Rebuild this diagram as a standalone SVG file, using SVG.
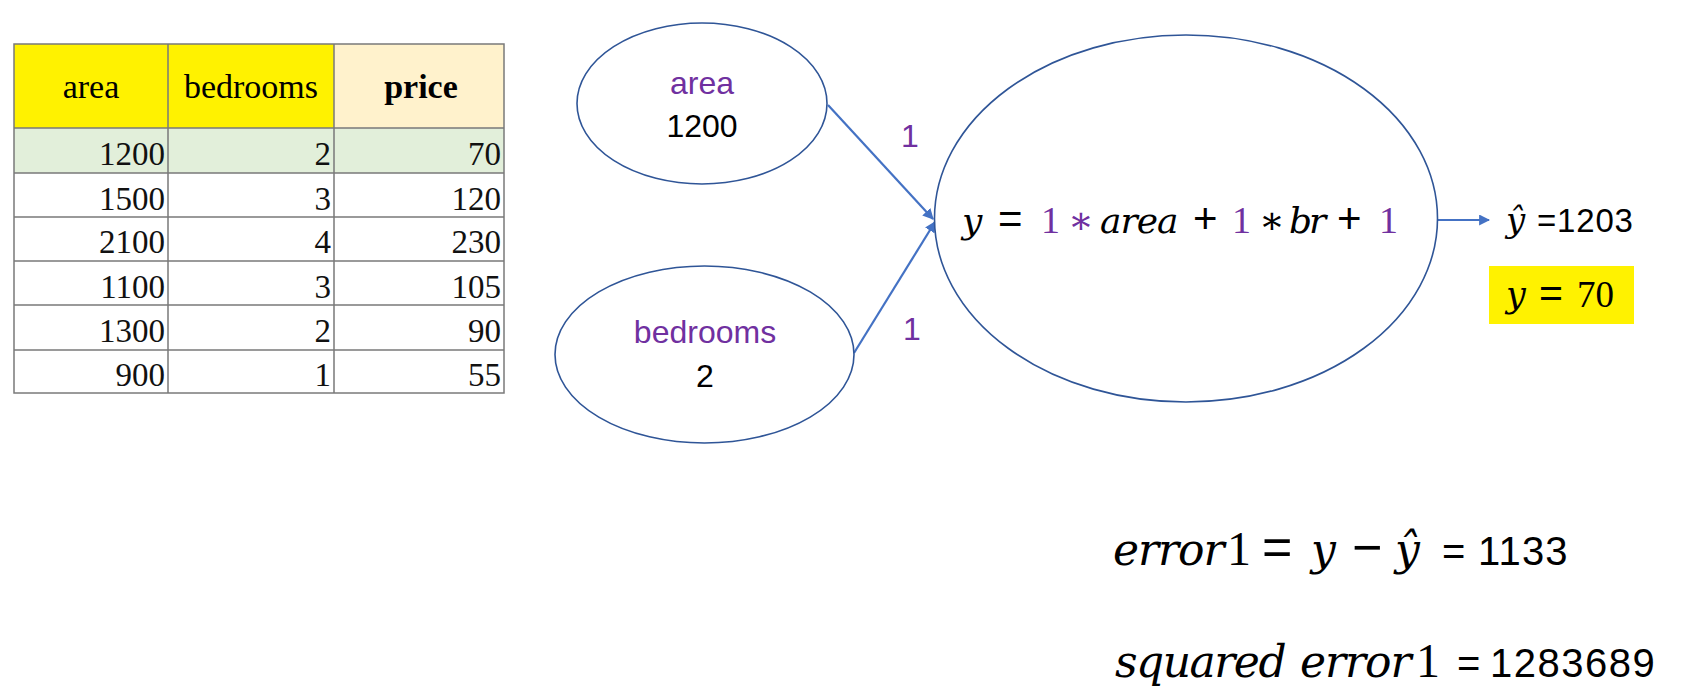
<svg xmlns="http://www.w3.org/2000/svg" width="1689" height="699" viewBox="0 0 1689 699">
<defs>
<style>
.line{stroke:#7a7a7a;stroke-width:1.5;fill:none}
.hdr{font-family:"Liberation Serif",serif;font-size:34px;text-anchor:middle;fill:#000}
.num{font-family:"Liberation Serif",serif;font-size:33px;text-anchor:end;fill:#111}
.node{fill:#fff;stroke:#2F5597;stroke-width:1.6}
.lab{font-family:"Liberation Sans",sans-serif;font-size:32px;text-anchor:middle;fill:#000}
.pur{fill:#7030A0}
.conn{stroke:#4472C4;stroke-width:2.2;fill:none}
.math{font-family:"DejaVu Serif",serif;font-style:italic;fill:#000}
.up{font-family:"Liberation Serif","DejaVu Serif",serif;font-style:normal}
.op{font-family:"Liberation Sans",sans-serif;font-style:normal}
.sans{font-family:"Liberation Sans",sans-serif;font-style:normal;fill:#000}
</style>
<marker id="arr" viewBox="0 0 10 10" refX="9" refY="5" markerWidth="5" markerHeight="5" markerUnits="strokeWidth" orient="auto">
<path d="M0,0 L10,5 L0,10 z" fill="#4472C4"/>
</marker>
</defs>
<rect width="1689" height="699" fill="#fff"/>

<g id="table">
<rect x="14" y="44" width="154" height="84" fill="#FFF200"/>
<rect x="168" y="44" width="166" height="84" fill="#FFF200"/>
<rect x="334" y="44" width="170" height="84" fill="#FFF2CC"/>
<rect x="14" y="128" width="490" height="45" fill="#E2EFDA"/>
<rect class="line" x="14" y="44" width="490" height="349"/>
<path class="line" d="M168,44V393M334,44V393M14,128H504M14,173H504M14,217H504M14,261H504M14,305H504M14,350H504"/>
<text class="hdr" x="91" y="98">area</text>
<text class="hdr" x="251" y="98">bedrooms</text>
<text class="hdr" x="421" y="98" font-weight="bold">price</text>
<text class="num" x="165" y="165">1200</text><text class="num" x="331" y="165">2</text><text class="num" x="501" y="165">70</text>
<text class="num" x="165" y="210">1500</text><text class="num" x="331" y="210">3</text><text class="num" x="501" y="210">120</text>
<text class="num" x="165" y="253">2100</text><text class="num" x="331" y="253">4</text><text class="num" x="501" y="253">230</text>
<text class="num" x="165" y="298">1100</text><text class="num" x="331" y="298">3</text><text class="num" x="501" y="298">105</text>
<text class="num" x="165" y="342">1300</text><text class="num" x="331" y="342">2</text><text class="num" x="501" y="342">90</text>
<text class="num" x="165" y="386">900</text><text class="num" x="331" y="386">1</text><text class="num" x="501" y="386">55</text>
</g>

<g id="connectors">
<line class="conn" x1="828" y1="105" x2="933" y2="219" marker-end="url(#arr)"/>
<line class="conn" x1="854" y1="353" x2="935" y2="222" marker-end="url(#arr)"/>
<line class="conn" x1="1437" y1="220" x2="1489" y2="220" marker-end="url(#arr)"/>
<text class="lab pur" x="910" y="147" font-size="30">1</text>
<text class="lab pur" x="912" y="340" font-size="30">1</text>
</g>

<g id="node-area">
<ellipse class="node" cx="702" cy="103.5" rx="125" ry="80.5"/>
<text class="lab pur" x="702" y="94">area</text>
<text class="lab" x="702" y="137">1200</text>
</g>

<g id="node-bedrooms">
<ellipse class="node" cx="704.5" cy="354.5" rx="149.5" ry="88.5"/>
<text class="lab pur" x="705" y="343">bedrooms</text>
<text class="lab" x="705" y="387">2</text>
</g>

<g id="node-neuron">
<ellipse class="node" cx="1186" cy="218.5" rx="251.5" ry="183.5"/>
<text class="math" y="233" font-size="36"><tspan x="962">y</tspan><tspan class="op" x="998" font-size="42">=</tspan><tspan class="up pur" x="1041" font-size="38">1</tspan><tspan class="up pur" x="1068" font-size="38">∗</tspan><tspan x="1100" letter-spacing="-1">area</tspan><tspan class="op" x="1193" font-size="42">+</tspan><tspan class="up pur" x="1232" font-size="38">1</tspan><tspan class="up" x="1259" font-size="38">∗</tspan><tspan x="1289" letter-spacing="-3">br</tspan><tspan class="op" x="1337" font-size="42">+</tspan><tspan class="up pur" x="1379" font-size="38">1</tspan></text>
</g>

<g id="output">
<text class="math" x="1506" y="232" font-size="34">ŷ</text>
<text class="sans" x="1537" y="232" font-size="33" letter-spacing="0.8">=1203</text>
<rect x="1489" y="266" width="145" height="58" fill="#FFF200"/>
<text class="math" y="307" font-size="35"><tspan x="1506">y</tspan><tspan class="op" x="1539" font-size="41">=</tspan><tspan class="up" x="1577" font-size="37">70</tspan></text>
</g>

<g id="error">
<text class="math" y="565" font-size="44"><tspan x="1113" letter-spacing="-1">error</tspan><tspan class="up" x="1227" font-size="48">1</tspan><tspan class="op" x="1262" font-size="52">=</tspan><tspan x="1311">y</tspan><tspan class="op" x="1352" font-size="52">−</tspan><tspan x="1395">ŷ</tspan></text>
<text class="sans" y="565" font-size="40"><tspan x="1442">=</tspan><tspan x="1478" letter-spacing="1.2">1133</tspan></text>
<text class="math" y="677" font-size="44"><tspan x="1115" letter-spacing="-1.5">squared</tspan><tspan x="1300" letter-spacing="-1">error</tspan><tspan class="up" x="1416" font-size="48">1</tspan></text>
<text class="sans" y="677" font-size="40"><tspan x="1457">=</tspan><tspan x="1490" letter-spacing="1.5">1283689</tspan></text>
</g>
</svg>
